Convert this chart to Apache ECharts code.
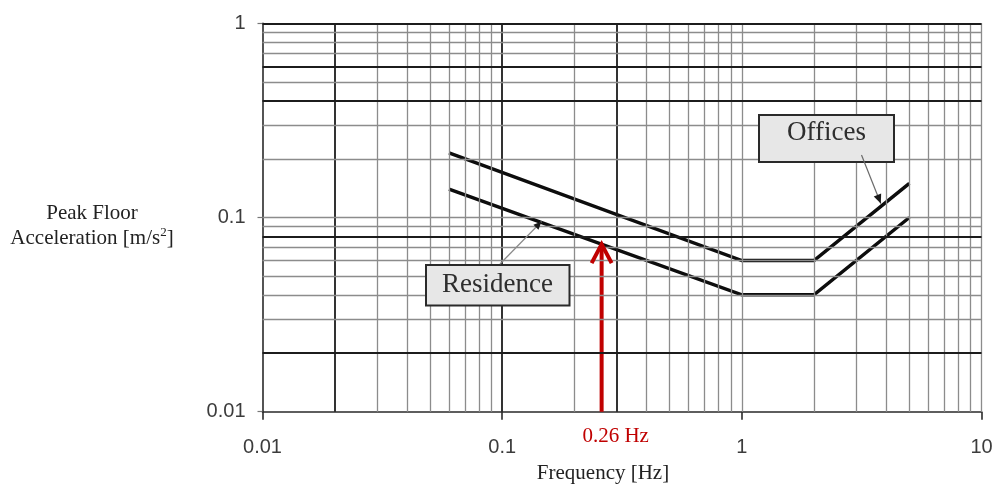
<!DOCTYPE html>
<html>
<head>
<meta charset="utf-8">
<script src="https://cdn.jsdelivr.net/npm/echarts@6/dist/echarts.min.js"></script>
<style>
  html, body { margin: 0; padding: 0; background: #ffffff; }
  #chart { width: 996px; height: 485px; }
</style>
</head>
<body>
<div id="chart"></div>
<script>
// Acceptability curves for peak floor acceleration vs. building frequency
const freqOffices = [0.06, 1, 2, 5];
const accOffices = [0.215, 0.06, 0.06, 0.15];
const freqResidence = [0.06, 1, 2, 5];
const accResidence = [0.14, 0.04, 0.04, 0.10];

// Axis ticks and labels
const xTicks = [0.01, 0.1, 1, 10];
const xTickLabels = ['0.01', '0.1', '1', '10'];
const yTicks = [0.01, 0.1, 1];
const yTickLabels = ['0.01', '0.1', '1'];

// Log graph-paper rulings
const xRulesThin = [0.03, 0.04, 0.05, 0.06, 0.07, 0.08, 0.09,
                    0.2, 0.4, 0.5, 0.6, 0.7, 0.8, 0.9, 1,
                    2, 3, 4, 5, 6, 7, 8, 9, 10];
const xRulesBold = [0.02, 0.1, 0.3];
const yRulesThin = [0.03, 0.04, 0.05, 0.06, 0.07, 0.09, 0.1,
                    0.2, 0.3, 0.5, 0.7, 0.8, 0.9];
const yRulesBold = [0.02, 0.08, 0.4, 0.6, 1];

// Highlighted frequency
const markerFreq = 0.26;
const markerLabel = '0.26 Hz';

const SANS = '"Liberation Sans", Arial, sans-serif';

const chart = echarts.init(document.getElementById('chart'), null, { renderer: 'canvas' });

const zip = (xs, ys) => xs.map((x, i) => [x, ys[i]]);

// log-log interpolation along a polyline
function curveAt(xs, ys, f) {
  for (let i = 0; i < xs.length - 1; i++) {
    if (f >= xs[i] && f <= xs[i + 1]) {
      const t = (Math.log10(f) - Math.log10(xs[i])) / (Math.log10(xs[i + 1]) - Math.log10(xs[i]));
      return Math.pow(10, Math.log10(ys[i]) + t * (Math.log10(ys[i + 1]) - Math.log10(ys[i])));
    }
  }
  return ys[ys.length - 1];
}
const markerAcc = curveAt(freqResidence, accResidence, markerFreq);

const thinStyle = { color: '#8c8c8c', width: 1.3, type: 'solid' };
const boldStyle = { color: '#1c1c1c', width: 1.8, type: 'solid' };

const ruleData = []
  .concat(xRulesThin.map(v => ({ xAxis: v, lineStyle: thinStyle })))
  .concat(xRulesBold.map(v => ({ xAxis: v, lineStyle: boldStyle })))
  .concat(yRulesThin.map(v => ({ yAxis: v, lineStyle: thinStyle })))
  .concat(yRulesBold.map(v => ({ yAxis: v, lineStyle: boldStyle })));

function tickFormatter(ticks, labels) {
  return function (v) {
    let best = 0, bd = Infinity;
    ticks.forEach((t, i) => {
      const d = Math.abs(Math.log10(v) - Math.log10(t));
      if (d < bd) { bd = d; best = i; }
    });
    return bd < 0.01 ? labels[best] : '';
  };
}

const option = {
  animation: false,
  backgroundColor: '#ffffff',
  grid: { left: 262.5, right: 14.5, top: 23.3, bottom: 73.3, containLabel: false },
  xAxis: {
    type: 'log', logBase: 10, min: 0.01, max: 10,
    axisLine: { show: true, onZero: false, lineStyle: { color: '#2a2a2a', width: 1.6 } },
    axisTick: { show: true, length: 8, lineStyle: { color: '#2a2a2a', width: 1.6 } },
    axisLabel: { fontFamily: SANS, fontSize: 20, color: '#3c3c3c', margin: 26,
                 formatter: tickFormatter(xTicks, xTickLabels) },
    splitLine: { show: false }, minorTick: { show: false }, minorSplitLine: { show: false }
  },
  yAxis: {
    type: 'log', logBase: 10, min: 0.01, max: 1,
    axisLine: { show: true, onZero: false, lineStyle: { color: '#2a2a2a', width: 1.6 } },
    axisTick: { show: true, length: 5, lineStyle: { color: '#777777', width: 1.2 } },
    axisLabel: { fontFamily: SANS, fontSize: 20, color: '#3c3c3c', margin: 17,
                 formatter: tickFormatter(yTicks, yTickLabels) },
    splitLine: { show: false }, minorTick: { show: false }, minorSplitLine: { show: false }
  },
  series: [
    {
      name: 'rulings', type: 'line', z: 1, silent: true,
      data: [], showSymbol: false,
      markLine: { silent: true, symbol: 'none', animation: false,
                  label: { show: false }, emphasis: { disabled: true },
                  data: ruleData }
    },
    {
      name: 'Offices', type: 'line', z: 3, silent: true,
      data: zip(freqOffices, accOffices), symbol: 'none',
      lineStyle: { color: '#0d0d0d', width: 3.5, join: 'miter' }
    },
    {
      name: 'Residence', type: 'line', z: 3, silent: true,
      data: zip(freqResidence, accResidence), symbol: 'none',
      lineStyle: { color: '#0d0d0d', width: 3.5, join: 'miter' }
    },
    {
      name: 'marker', type: 'line', z: 4, silent: true,
      data: [[markerFreq, 0.01], [markerFreq, markerAcc]], symbol: 'none',
      lineStyle: { color: '#c00000', width: 4 }
    }
  ]
};
chart.setOption(option);

// Annotation overlay anchored to data positions
const px = (x, y) => chart.convertToPixel({ gridIndex: 0 }, [x, y]);

function arrowHead(tip, from, len, half, fill) {
  const dx = tip[0] - from[0], dy = tip[1] - from[1];
  const L = Math.hypot(dx, dy); const ux = dx / L, uy = dy / L;
  const bx = tip[0] - ux * len, by = tip[1] - uy * len;
  return {
    type: 'polygon', z: 20, silent: true,
    shape: { points: [tip, [bx - uy * half, by + ux * half], [bx + uy * half, by - ux * half]] },
    style: { fill: fill }
  };
}

const tipMarker = px(markerFreq, markerAcc);
const offTipF = 3.8;
const offTip = px(offTipF, curveAt(freqOffices, accOffices, offTipF));
offTip[1] -= 3;
const resTipF = 0.146;
const resTip = px(resTipF, curveAt(freqResidence, accResidence, resTipF));
resTip[1] -= 1;

const offFrom = [861.5, 155];
const resFrom = [500, 264];

chart.setOption({
  graphic: [
    // y-axis title
    { type: 'text', x: 92, y: 226, z: 20, silent: true,
      style: { text: 'Peak Floor\nAcceleration [m/s{sup|2}]', fontFamily: 'Liberation Serif', fontSize: 21,
               fill: '#222222', align: 'center', verticalAlign: 'middle', lineHeight: 25,
               rich: { sup: { fontFamily: 'Liberation Serif', fontSize: 13, verticalAlign: 'top', fill: '#222222', padding: [0, 0, 8, 0] } } } },
    // x-axis title
    { type: 'text', x: 603, y: 473, z: 20, silent: true,
      style: { text: 'Frequency [Hz]', fontFamily: 'Liberation Serif', fontSize: 21,
               fill: '#222222', align: 'center', verticalAlign: 'middle' } },
    // marker label
    { type: 'text', x: tipMarker[0] + 14, y: 436, z: 20, silent: true,
      style: { text: markerLabel, fontFamily: 'Liberation Serif', fontSize: 21,
               fill: '#c00000', align: 'center', verticalAlign: 'middle' } },
    // marker chevron
    { type: 'polyline', z: 21, silent: true,
      shape: { points: [[tipMarker[0] - 10, tipMarker[1] + 19], [tipMarker[0], tipMarker[1]], [tipMarker[0] + 10, tipMarker[1] + 19]] },
      style: { stroke: '#c00000', lineWidth: 4, fill: null, lineJoin: 'miter' } },

    // Offices callout
    { type: 'rect', z: 15, silent: true,
      shape: { x: 759, y: 115, width: 135, height: 47 },
      style: { fill: '#e7e7e7', stroke: '#2a2a2a', lineWidth: 2 } },
    { type: 'text', x: 826.5, y: 133, z: 16, silent: true,
      style: { text: 'Offices', fontFamily: 'Liberation Serif', fontSize: 27,
               fill: '#2e2e2e', align: 'center', verticalAlign: 'middle' } },
    { type: 'line', z: 19, silent: true,
      shape: { x1: offFrom[0], y1: offFrom[1], x2: offTip[0], y2: offTip[1] },
      style: { stroke: '#6a6a6a', lineWidth: 1.2 } },
    arrowHead(offTip, offFrom, 9, 4, '#1a1a1a'),

    // Residence callout
    { type: 'rect', z: 15, silent: true,
      shape: { x: 426, y: 265, width: 143.5, height: 40.5 },
      style: { fill: '#e7e7e7', stroke: '#2a2a2a', lineWidth: 2 } },
    { type: 'text', x: 497.5, y: 285, z: 16, silent: true,
      style: { text: 'Residence', fontFamily: 'Liberation Serif', fontSize: 27,
               fill: '#2e2e2e', align: 'center', verticalAlign: 'middle' } },
    { type: 'line', z: 19, silent: true,
      shape: { x1: resFrom[0], y1: resFrom[1], x2: resTip[0], y2: resTip[1] },
      style: { stroke: '#8a8a8a', lineWidth: 1.2 } },
    arrowHead(resTip, resFrom, 8, 3.5, '#1a1a1a')
  ]
});
</script>
</body>
</html>
